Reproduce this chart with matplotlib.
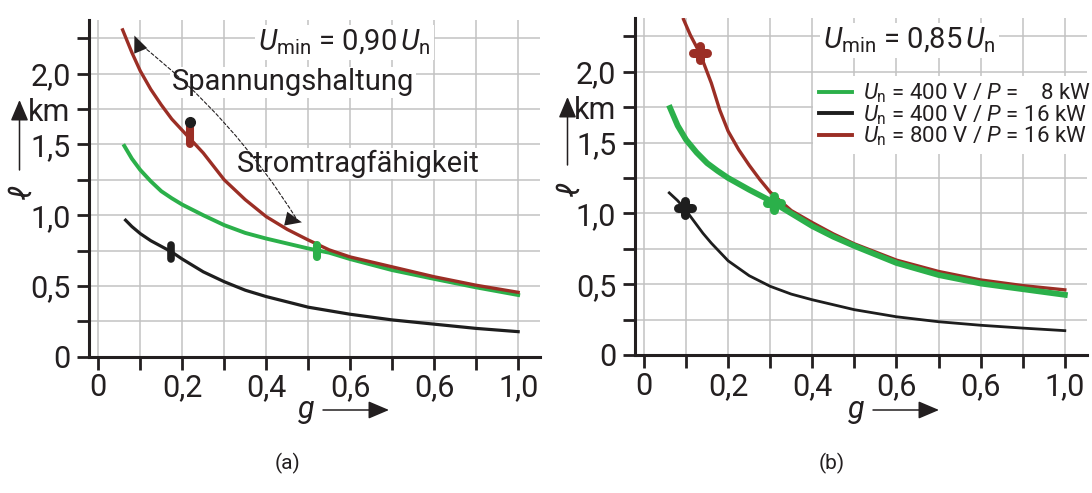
import matplotlib
matplotlib.use("Agg")
import matplotlib.pyplot as plt
from matplotlib.lines import Line2D
from matplotlib.markers import MarkerStyle

# ---- data ----
# (a) U_min = 0.90 U_n
a_red_g = [0.058, 0.08, 0.1, 0.125, 0.15, 0.175, 0.2, 0.225, 0.25, 0.3, 0.35, 0.4,
           0.45, 0.5, 0.55, 0.6, 0.7, 0.8, 0.9, 1.0]
a_red_l = [2.31, 2.15, 2.02, 1.89, 1.78, 1.68, 1.60, 1.52, 1.44, 1.25, 1.11, 0.99,
           0.90, 0.825, 0.755, 0.705, 0.635, 0.565, 0.505, 0.455]
a_green_g = [0.062, 0.08, 0.1, 0.125, 0.15, 0.175, 0.2, 0.25, 0.3, 0.35, 0.4, 0.45,
             0.5, 0.55, 0.6, 0.7, 0.8, 0.9, 1.0]
a_green_l = [1.49, 1.40, 1.32, 1.24, 1.17, 1.12, 1.075, 1.0, 0.93, 0.875, 0.835, 0.80,
             0.765, 0.735, 0.69, 0.612, 0.55, 0.49, 0.436]
a_black_g = [0.065, 0.08, 0.1, 0.125, 0.15, 0.175, 0.2, 0.25, 0.3, 0.35, 0.4, 0.5,
             0.6, 0.7, 0.8, 0.9, 1.0]
a_black_l = [0.965, 0.92, 0.87, 0.82, 0.78, 0.74, 0.69, 0.60, 0.53, 0.47, 0.425, 0.35,
             0.30, 0.26, 0.23, 0.20, 0.177]
a_mark_red = (0.218, 1.58)
a_mark_dot = (0.218, 1.66)
a_mark_green = (0.521, 0.745)
a_mark_black = (0.174, 0.74)

# (b) U_min = 0.85 U_n
b_red_g = [0.094, 0.11, 0.133, 0.16, 0.18, 0.2, 0.225, 0.25, 0.275, 0.3, 0.35, 0.4,
           0.45, 0.5, 0.6, 0.7, 0.8, 0.9, 1.0]
b_red_l = [2.37, 2.26, 2.13, 1.92, 1.73, 1.58, 1.45, 1.34, 1.24, 1.15, 1.02, 0.935,
           0.855, 0.785, 0.67, 0.59, 0.53, 0.49, 0.46]
b_green_g = [0.062, 0.08, 0.1, 0.125, 0.15, 0.175, 0.2, 0.25, 0.3, 0.35, 0.4, 0.45,
             0.5, 0.6, 0.7, 0.8, 0.9, 1.0]
b_green_l = [1.745, 1.62, 1.52, 1.43, 1.355, 1.30, 1.25, 1.167, 1.09, 1.0, 0.91, 0.835,
             0.77, 0.65, 0.565, 0.505, 0.465, 0.425]
b_black_g = [0.06, 0.08, 0.1, 0.12, 0.14, 0.16, 0.2, 0.25, 0.3, 0.35, 0.4, 0.5, 0.6,
             0.7, 0.8, 0.9, 1.0]
b_black_l = [1.145, 1.09, 1.02, 0.94, 0.86, 0.79, 0.665, 0.56, 0.485, 0.43, 0.39, 0.32,
             0.27, 0.235, 0.21, 0.19, 0.172]
b_mark_red = (0.133, 2.13)
b_mark_green = (0.308, 1.07)
b_mark_black = (0.098, 1.037)

legend_labels = [r"$U_\mathrm{n}$ = 400 V / $P$ =    8 kW",
                 r"$U_\mathrm{n}$ = 400 V / $P$ = 16 kW",
                 r"$U_\mathrm{n}$ = 800 V / $P$ = 16 kW"]

x_ticks = [0, 0.1, 0.2, 0.3, 0.4, 0.5, 0.6, 0.7, 0.8, 0.9, 1.0]
x_labels = ["0", "", "0,2", "", "0,4", "", "0,6", "", "0,6", "", "1,0"]
y_ticks = [0, 0.25, 0.5, 0.75, 1.0, 1.25, 1.5, 1.75, 2.0, 2.25]
y_labels = ["0", "", "0,5", "", "1,0", "", "1,5", "km", "2,0", ""]

GREEN = "#2bb04a"
RED = "#9b2e25"
BLACK = "#1e1e1e"
INK = "#231f20"

plt.rcParams["font.family"] = ["Roboto", "DejaVu Sans"]
plt.rcParams["mathtext.fontset"] = "custom"
plt.rcParams["mathtext.rm"] = "Roboto"
plt.rcParams["mathtext.it"] = "Roboto:italic"
plt.rcParams["text.color"] = INK

W, H = 1092, 493
fig = plt.figure(figsize=(W / 100, H / 100), dpi=100)
ax_a = fig.add_axes([89.3 / W, 1 - 356.7 / H, 450.7 / W, 336.7 / H])
ax_b = fig.add_axes([635 / W, 1 - 355 / H, 451.7 / W, 337 / H])


def fx(px):
    return px / W


def fy(py):
    return 1 - py / H


def style(ax):
    ax.set_xlim(-0.0214, 1.052)
    ax.set_ylim(0, 2.38)
    for s in ["top", "right"]:
        ax.spines[s].set_visible(False)
    for s in ["left", "bottom"]:
        ax.spines[s].set_linewidth(2.2)
        ax.spines[s].set_color(INK)
    ax.set_xticks(x_ticks)
    ax.set_xticklabels(x_labels)
    ax.set_yticks(y_ticks)
    ax.set_yticklabels(y_labels)
    ax.tick_params(direction="out", length=9, width=2, labelsize=22, pad=3, color=INK,
                   labelcolor=INK)
    ax.tick_params(axis="y", pad=4.5)
    ax.grid(True, color="#c2c2c2", lw=1.1)
    ax.set_axisbelow(True)


bar = MarkerStyle("|", capstyle="round")
cross = MarkerStyle("+", capstyle="round")
head = "-|>,head_length=0.4,head_width=0.17"

# ---- (a) ----
style(ax_a)
ax_a.plot(a_black_g, a_black_l, color=BLACK, lw=2.3, zorder=3)
ax_a.plot(a_green_g, a_green_l, color=GREEN, lw=2.8, zorder=3)
ax_a.plot(a_red_g, a_red_l, color=RED, lw=2.4, zorder=4)
ax_a.plot(*a_mark_black, marker=bar, ms=10, mew=5.5, color=BLACK, zorder=5)
ax_a.plot(*a_mark_red, marker=bar, ms=16, mew=5.8, color=RED, zorder=5)
ax_a.plot(*a_mark_dot, marker="o", ms=7, color=BLACK, zorder=6)
ax_a.plot(*a_mark_green, marker=bar, ms=9, mew=5.8, color=GREEN, zorder=5)

ax_a.text(0.38, 2.22, r"$U_\mathrm{min}$ = 0,90$\,U_\mathrm{n}$", fontsize=21,
          va="center", ha="left", bbox=dict(fc="white", ec="none", pad=2), zorder=7)
ax_a.text(0.175, 1.94, "Spannungshaltung", fontsize=21, va="center", ha="left",
          bbox=dict(fc="white", ec="none", pad=1), zorder=2)
ax_a.text(0.33, 1.365, "Stromtragfähigkeit", fontsize=21, va="center", ha="left",
          bbox=dict(fc="white", ec="none", pad=1), zorder=2)

# dashed double arrow along the red curve
ax_a.annotate("", xy=(0.475, 0.96), xytext=(0.095, 2.22),
              arrowprops=dict(arrowstyle="-", ls=(0, (3, 2)), lw=0.8, color=INK,
                              connectionstyle="arc3,rad=-0.09", shrinkA=0, shrinkB=0),
              zorder=6)
ax_a.annotate("", xy=(0.086, 2.27), xytext=(0.1, 2.17),
              arrowprops=dict(arrowstyle=head, lw=0, color=INK, mutation_scale=30,
                              shrinkA=0, shrinkB=0),
              zorder=6)
ax_a.annotate("", xy=(0.485, 0.95), xytext=(0.44, 0.98),
              arrowprops=dict(arrowstyle=head, lw=0, color=INK, mutation_scale=30,
                              shrinkA=0, shrinkB=0),
              zorder=6)

# ---- (b) ----
style(ax_b)
ax_b.plot(b_black_g, b_black_l, color=BLACK, lw=2.0, zorder=3)
ax_b.plot(b_red_g, b_red_l, color=RED, lw=2.4, zorder=3)
ax_b.plot(b_green_g, b_green_l, color=GREEN, lw=4.2, zorder=4)
ax_b.plot(*b_mark_red, marker=cross, ms=10, mew=6.5, color=RED, zorder=5)
ax_b.plot(*b_mark_black, marker=cross, ms=10, mew=6.5, color=BLACK, zorder=5)
ax_b.plot(*b_mark_green, marker=cross, ms=10, mew=6.5, color=GREEN, zorder=5)

ax_b.text(0.425, 2.22, r"$U_\mathrm{min}$ = 0,85$\,U_\mathrm{n}$", fontsize=21,
          va="center", ha="left", bbox=dict(fc="white", ec="none", pad=2), zorder=7)

handles = [Line2D([], [], color=GREEN, lw=2.8),
           Line2D([], [], color=BLACK, lw=2.8),
           Line2D([], [], color=RED, lw=2.8)]
leg = ax_b.legend(handles, legend_labels, loc="upper right", bbox_to_anchor=(1.075, 1.97),
                  bbox_transform=ax_b.transData, fontsize=16, frameon=True,
                  framealpha=1, edgecolor="none", fancybox=False, handlelength=1.5,
                  handletextpad=0.5, labelspacing=-0.1, borderpad=0.25,
                  borderaxespad=0)
leg.set_zorder(7)

# ---- axis names with arrows ----
arrow = dict(arrowstyle=head, lw=1.1, color=INK, mutation_scale=32, shrinkA=0, shrinkB=0)
for gx, ax0, ax1, lx, ly, ay0, ay1 in [(306, 323, 389, 23, 193, 170, 100),
                                       (856, 873, 939, 571, 190, 165, 97)]:
    fig.text(fx(gx), fy(412), "$g$", fontsize=22, ha="center", va="center")
    fig.add_artist(plt.Annotation("", xy=(fx(ax1), fy(410)), xytext=(fx(ax0), fy(410)),
                                  xycoords="figure fraction", arrowprops=arrow))
    fig.text(fx(lx), fy(ly), r"$\ell$", fontsize=22, ha="center", va="center",
             rotation=90)
    fig.add_artist(plt.Annotation("", xy=(fx(lx - 3.5), fy(ay1)),
                                  xytext=(fx(lx - 3.5), fy(ay0)),
                                  xycoords="figure fraction", arrowprops=arrow))

fig.text(fx(287), fy(463), "(a)", fontsize=15, ha="center", va="center")
fig.text(fx(832), fy(463), "(b)", fontsize=15, ha="center", va="center")

fig.savefig("out.png", dpi=100)
